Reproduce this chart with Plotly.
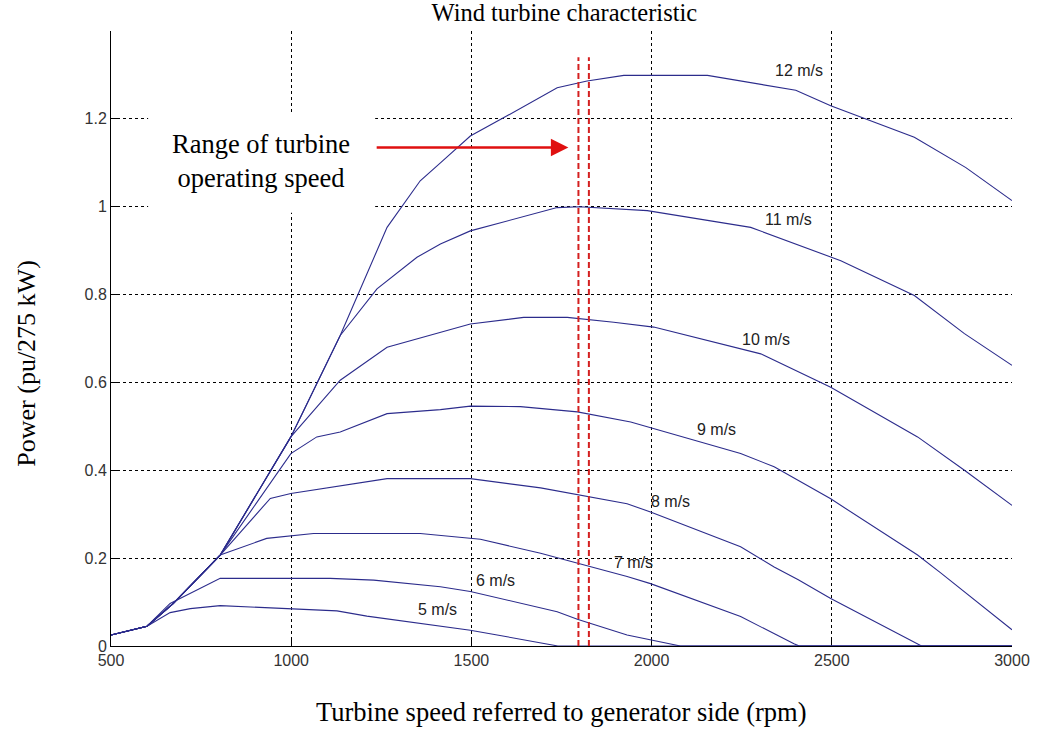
import plotly.graph_objects as go

# Turbine speed (rpm) and power (pu) samples for each wind speed
rpm_5 = [500, 600, 664, 720, 803, 1000, 1127, 1210, 1358, 1497, 1599, 1719, 1740, 3000]
pu_5 = [0.025, 0.045, 0.076, 0.085, 0.092, 0.085, 0.080, 0.068, 0.052, 0.036, 0.021, 0.004, 0.0, 0.0]

rpm_6 = [500, 600, 664, 803, 1108, 1229, 1414, 1497, 1738, 1794, 1932, 2062, 2080, 3000]
pu_6 = [0.025, 0.045, 0.097, 0.154, 0.154, 0.150, 0.135, 0.124, 0.078, 0.061, 0.025, 0.004, 0.0, 0.0]

rpm_7 = [500, 600, 673, 803, 932, 1062, 1358, 1414, 1525, 1692, 1794, 1932, 1997, 2247, 2395, 2410, 3000]
pu_7 = [0.025, 0.045, 0.097, 0.207, 0.245, 0.256, 0.256, 0.252, 0.243, 0.211, 0.189, 0.158, 0.142, 0.067, 0.005, 0.0, 0.0]

rpm_8 = [500, 600, 673, 803, 942, 999, 1266, 1497, 1692, 1794, 1932, 1997, 2247, 2340, 2407, 2497, 2749, 3000]
pu_8 = [0.025, 0.045, 0.097, 0.207, 0.336, 0.347, 0.381, 0.381, 0.360, 0.345, 0.324, 0.305, 0.226, 0.180, 0.151, 0.108, 0.0, 0.0]

rpm_9 = [500, 600, 673, 803, 999, 1071, 1136, 1266, 1414, 1497, 1636, 1794, 1942, 1997, 2247, 2340, 2497, 2738, 2803, 3000]
pu_9 = [0.025, 0.045, 0.097, 0.207, 0.438, 0.476, 0.487, 0.529, 0.538, 0.546, 0.545, 0.533, 0.510, 0.497, 0.438, 0.408, 0.335, 0.207, 0.166, 0.037]

rpm_10 = [500, 600, 673, 803, 999, 1136, 1266, 1414, 1497, 1645, 1766, 1895, 2006, 2303, 2497, 2738, 2868, 3000]
pu_10 = [0.025, 0.045, 0.097, 0.207, 0.476, 0.605, 0.680, 0.714, 0.733, 0.748, 0.748, 0.737, 0.726, 0.665, 0.589, 0.476, 0.400, 0.320]

rpm_11 = [500, 600, 673, 803, 999, 1136, 1238, 1349, 1414, 1497, 1738, 1800, 1988, 2275, 2525, 2729, 2868, 3000]
pu_11 = [0.025, 0.045, 0.097, 0.207, 0.476, 0.707, 0.813, 0.885, 0.915, 0.945, 0.998, 1.000, 0.991, 0.953, 0.877, 0.798, 0.711, 0.639]

rpm_12 = [500, 600, 673, 803, 999, 1136, 1266, 1358, 1414, 1497, 1599, 1738, 1821, 1923, 2155, 2400, 2497, 2608, 2729, 2872, 3000]
pu_12 = [0.025, 0.045, 0.097, 0.207, 0.476, 0.707, 0.953, 1.059, 1.100, 1.161, 1.207, 1.271, 1.286, 1.299, 1.299, 1.265, 1.230, 1.195, 1.158, 1.089, 1.014]

curve_names = ["5 m/s", "6 m/s", "7 m/s", "8 m/s", "9 m/s", "10 m/s", "11 m/s", "12 m/s"]
curve_rpm = [rpm_5, rpm_6, rpm_7, rpm_8, rpm_9, rpm_10, rpm_11, rpm_12]
curve_pu = [pu_5, pu_6, pu_7, pu_8, pu_9, pu_10, pu_11, pu_12]

# Where each wind-speed label sits (rpm, pu)
label_rpm = [1407, 1567, 1949, 2053, 2181, 2317, 2379, 2408]
label_pu = [0.082, 0.150, 0.189, 0.330, 0.493, 0.698, 0.970, 1.311]

# Operating speed range markers (rpm)
range_rpm = [1797, 1826]
range_top = 1.34

x_ticks = [500, 1000, 1500, 2000, 2500, 3000]
y_ticks = [0, 0.2, 0.4, 0.6, 0.8, 1.0, 1.2]
y_tick_text = ["0", "0.2", "0.4", "0.6", "0.8", "1", "1.2"]

CURVE_COLOR = "#2c2c8c"
SERIF = "Liberation Serif, Times New Roman, serif"
SANS = "Liberation Sans, Arial, sans-serif"

fig = go.Figure()

for name, xs, ys in zip(curve_names, curve_rpm, curve_pu):
    fig.add_trace(go.Scatter(x=xs, y=ys, mode="lines", name=name,
                             line=dict(color=CURVE_COLOR, width=1.1),
                             showlegend=False, hoverinfo="skip"))

for xr in range_rpm:
    fig.add_trace(go.Scatter(x=[xr, xr], y=[0, range_top], mode="lines",
                             line=dict(color="#d42020", width=2, dash="6px,3px"),
                             showlegend=False, hoverinfo="skip"))

for name, lx, ly in zip(curve_names, label_rpm, label_pu):
    fig.add_annotation(x=lx, y=ly, text=name, showarrow=False,
                       font=dict(family=SANS, size=16, color="#222222"))

# White panel behind the explanatory note
fig.add_shape(type="rect", x0=603, x1=1233, y0=0.986, y1=1.21,
              fillcolor="white", line=dict(width=0), layer="between")

fig.add_annotation(x=917, y=1.105, text="Range of turbine<br>operating speed",
                   showarrow=False, font=dict(family=SERIF, size=26.5, color="black"))

# Arrow pointing at the operating range
fig.add_annotation(x=1769, y=1.135, ax=1233, ay=1.135, axref="x", ayref="y",
                   xref="x", yref="y", text="", showarrow=True,
                   arrowhead=2, arrowsize=1.4, arrowwidth=2.5, arrowcolor="#e01010")

# Axis titles
fig.add_annotation(xref="paper", yref="paper", x=0.5, y=0, yshift=-66,
                   text="Turbine speed referred to generator side (rpm)",
                   showarrow=False, yanchor="middle",
                   font=dict(family=SERIF, size=26.5, color="black"))
fig.add_annotation(xref="paper", yref="paper", x=0, y=0.459, xshift=-84,
                   text="Power (pu/275 kW)", textangle=-90,
                   showarrow=False, xanchor="center", yanchor="middle",
                   font=dict(family=SERIF, size=26, color="black"))

fig.update_layout(
    width=1047, height=733,
    margin=dict(l=111, r=35, t=31, b=87),
    paper_bgcolor="white", plot_bgcolor="white",
    title=dict(text="Wind turbine characteristic", x=0.539, xanchor="center",
               y=1 - 12 / 733, yanchor="middle",
               font=dict(family=SERIF, size=24.5, color="black")),
    xaxis=dict(range=[500, 3000], tickvals=x_ticks, ticks="inside", ticklen=7,
               tickcolor="black", showline=True, linecolor="black", linewidth=1,
               showgrid=True, gridcolor="black", griddash="dot", gridwidth=1,
               zeroline=False, tickfont=dict(family=SANS, size=16, color="#333333"),
               layer="below traces"),
    yaxis=dict(range=[0, 1.4], tickvals=y_ticks, ticktext=y_tick_text,
               ticks="inside", ticklen=7, tickcolor="black",
               showline=True, linecolor="black", linewidth=1,
               showgrid=True, gridcolor="black", griddash="dot", gridwidth=1,
               zeroline=False, tickfont=dict(family=SANS, size=16, color="#333333")),
)

fig.write_html("out.html")
